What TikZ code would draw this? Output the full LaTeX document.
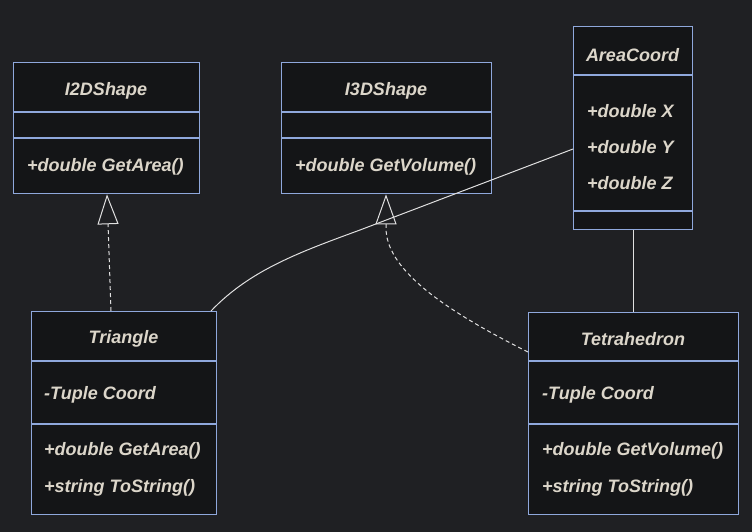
\documentclass[tikz,border=0pt]{standalone}
\usepackage{fontspec}
\setmainfont{Liberation Sans}
\usetikzlibrary{arrows.meta}
\definecolor{bgc}{HTML}{1F2023}
\definecolor{boxfill}{HTML}{141517}
\definecolor{boxline}{HTML}{8FA8DC}
\definecolor{txtc}{HTML}{DCD6CA}
\definecolor{linec}{HTML}{E0E0E0}
\begin{document}
\begin{tikzpicture}[x=1pt,y=-1pt,
  classbox/.style={draw=boxline, fill=boxfill, line width=1.3pt, rectangle, inner sep=0pt, anchor=north west},
  divider/.style={draw=boxline, line width=1.3pt},
  ttl/.style={text=txtc, font=\fontsize{18}{22}\selectfont\bfseries\itshape, inner sep=0pt, yshift=-2pt},
  mem/.style={text=txtc, font=\fontsize{18}{22}\selectfont\bfseries\itshape, inner sep=0pt, anchor=west, yshift=-2pt},
  realize/.style={draw=linec, line width=1pt, dash pattern=on 4pt off 3pt, -{Triangle[open, length=30pt, width=21pt, line width=1pt]}},
  assoc/.style={draw=linec, line width=1pt}
]
\fill[bgc] (0,0) rectangle (752,532);
\useasboundingbox (0,0) rectangle (752,532);

% I2DShape
\node[classbox, minimum width=186pt, minimum height=131pt] (i2d) at (13,62) {};
\draw[divider] (13,112) -- (199,112);
\draw[divider] (13,138) -- (199,138);
\node[ttl] (i2dt) at (106,89) {I2DShape};
\node[mem] (i2dm) at (27,165) {+double GetArea()};

% I3DShape
\node[classbox, minimum width=210pt, minimum height=131pt] (i3d) at (281,62) {};
\draw[divider] (281,112) -- (491,112);
\draw[divider] (281,138) -- (491,138);
\node[ttl] (i3dt) at (386,89) {I3DShape};
\node[mem] (i3dm) at (295,165) {+double GetVolume()};

% AreaCoord
\node[classbox, minimum width=119pt, minimum height=203pt] (area) at (573,26) {};
\draw[divider] (573,75) -- (692,75);
\draw[divider] (573,211) -- (692,211);
\node[ttl] (areat) at (632.5,53) {AreaCoord};
\node[mem] (areax) at (587,109) {+double X};
\node[mem] (areay) at (587,145) {+double Y};
\node[mem] (areaz) at (587,181) {+double Z};

% Triangle
\node[classbox, minimum width=185pt, minimum height=203pt] (tri) at (31,311) {};
\draw[divider] (31,361) -- (216,361);
\draw[divider] (31,424) -- (216,424);
\node[ttl] (trit) at (123.5,337) {Triangle};
\node[mem] (tria) at (44,393) {-Tuple Coord};
\node[mem] (trim1) at (44,449) {+double GetArea()};
\node[mem] (trim2) at (44,486) {+string ToString()};

% Tetrahedron
\node[classbox, minimum width=210pt, minimum height=202pt] (tet) at (528,312) {};
\draw[divider] (528,361) -- (738,361);
\draw[divider] (528,424) -- (738,424);
\node[ttl] (tett) at (633,337) {Tetrahedron};
\node[mem] (teta) at (542,393) {-Tuple Coord};
\node[mem] (tetm1) at (542,449) {+double GetVolume()};
\node[mem] (tetm2) at (542,486) {+string ToString()};

% connectors
\draw[realize] (111,0 |- tri.north) -- (107,0 |- i2d.south);
\draw[realize] (tet.west |- 0,352) .. controls (440,308) and (386,268) .. (386,228) -- (386,0 |- i3d.south);
\draw[assoc] (211,0 |- tri.north) .. controls (250,270) and (300,252) .. (360,230) -- (area.west |- 0,149);
\draw[assoc] (area.south) -- (area.south |- tet.north);
\end{tikzpicture}
\end{document}
